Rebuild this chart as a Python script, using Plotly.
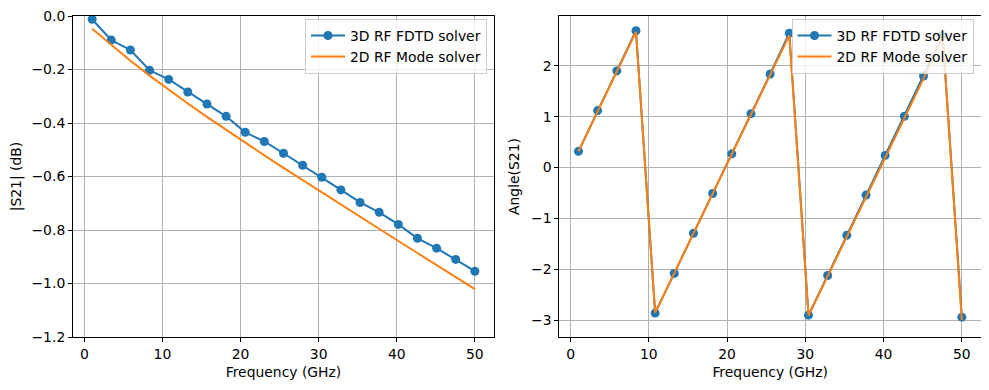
import plotly.graph_objects as go
from plotly.subplots import make_subplots

freq = [1.0, 3.45, 5.9, 8.35, 10.8, 13.25, 15.7, 18.15, 20.6, 23.05, 25.5,
        27.95, 30.4, 32.85, 35.3, 37.75, 40.2, 42.65, 45.1, 47.55, 50.0]

s21_db_fdtd = [-0.012, -0.090, -0.127, -0.203, -0.237, -0.284, -0.329, -0.375,
               -0.435, -0.469, -0.513, -0.558, -0.603, -0.650, -0.697, -0.734,
               -0.779, -0.831, -0.868, -0.910, -0.954]
s21_db_mode = [-0.048, -0.109, -0.167, -0.223, -0.276, -0.327, -0.377, -0.426,
               -0.474, -0.521, -0.568, -0.614, -0.660, -0.706, -0.751, -0.796,
               -0.841, -0.886, -0.931, -0.976, -1.021]

ang_fdtd = [0.32, 1.12, 1.90, 2.69, -2.86, -2.08, -1.29, -0.51, 0.27, 1.06, 1.84,
            2.64, -2.90, -2.12, -1.33, -0.54, 0.24, 1.01, 1.80, 2.60, -2.94]
ang_mode = [0.32, 1.11, 1.89, 2.67, -2.85, -2.07, -1.30, -0.53, 0.24, 1.02, 1.80,
            2.60, -2.91, -2.14, -1.37, -0.59, 0.19, 0.97, 1.75, 2.59, -3.00]

names = ["3D RF FDTD solver", "2D RF Mode solver"]
blue = "#1f77b4"
orange = "#ff7f0e"
font = dict(family="DejaVu Sans", size=13.9, color="black")

fig = make_subplots(rows=1, cols=2)

fig.add_trace(go.Scatter(x=freq, y=s21_db_fdtd, mode="lines+markers", name=names[0],
                         line=dict(color=blue, width=2), marker=dict(size=9, color=blue),
                         legend="legend"), row=1, col=1)
fig.add_trace(go.Scatter(x=freq, y=s21_db_mode, mode="lines", name=names[1],
                         line=dict(color=orange, width=2), legend="legend"), row=1, col=1)
fig.add_trace(go.Scatter(x=freq, y=ang_fdtd, mode="lines+markers", name=names[0],
                         line=dict(color=blue, width=2), marker=dict(size=9, color=blue),
                         legend="legend2"), row=1, col=2)
fig.add_trace(go.Scatter(x=freq, y=ang_mode, mode="lines", name=names[1],
                         line=dict(color=orange, width=2), legend="legend2"), row=1, col=2)

ax_common = dict(showline=True, linecolor="black", linewidth=1, mirror=True,
                 ticks="outside", ticklen=4, tickwidth=1, tickcolor="black",
                 showgrid=True, gridcolor="#b0b0b0", gridwidth=0.8, zeroline=False,
                 tickfont=font, automargin=False, ticklabeloverflow="allow")

# page body has an 8px offset; figure coordinates = page coordinates - 8
OFF = 8
W, H = 989 - OFF, 390 - OFF
ml, mt = 73 - OFF, 16 - OFF
mr = W - (981 - OFF)
mb = H - (337 - OFF)
pw = W - ml - mr
ph = H - mt - mb

def px(x):
    return (x - OFF - ml) / pw

def py(y):
    return 1 - (y - OFF - mt) / ph

fig.update_layout(
    width=W, height=H,
    margin=dict(l=ml, r=mr, t=mt, b=mb),
    paper_bgcolor="white", plot_bgcolor="white",
    font=font,
    xaxis=dict(domain=[0, px(494)], range=[-1.45, 52.45], tickvals=[0, 10, 20, 30, 40, 50],
               title=dict(text="Frequency (GHz)", font=font, standoff=6), **ax_common),
    xaxis2=dict(domain=[px(559.3), 1.0], range=[-1.45, 52.45], tickvals=[0, 10, 20, 30, 40, 50],
                title=dict(text="Frequency (GHz)", font=font, standoff=6), **ax_common),
    yaxis=dict(domain=[0, 1], range=[-1.2, 0], tickvals=[0, -0.2, -0.4, -0.6, -0.8, -1.0, -1.2],
               tickformat=".1f",
               title=dict(text="|S21| (dB)", font=font, standoff=8), **ax_common),
    yaxis2=dict(domain=[0, 1], range=[-3.33, 2.98], tickvals=[-3, -2, -1, 0, 1, 2],
                title=dict(text="Angle(S21)", font=font, standoff=8), **ax_common),
    legend=dict(x=px(487), xanchor="right", y=py(19), yanchor="top",
                bgcolor="rgba(255,255,255,0.8)", bordercolor="#cccccc", borderwidth=1,
                font=font, tracegroupgap=0, itemwidth=34),
    legend2=dict(x=px(973.5), xanchor="right", y=py(19), yanchor="top",
                 bgcolor="rgba(255,255,255,0.8)", bordercolor="#cccccc", borderwidth=1,
                 font=font, tracegroupgap=0, itemwidth=34),
    showlegend=True,
)

fig.write_html("out.html")
